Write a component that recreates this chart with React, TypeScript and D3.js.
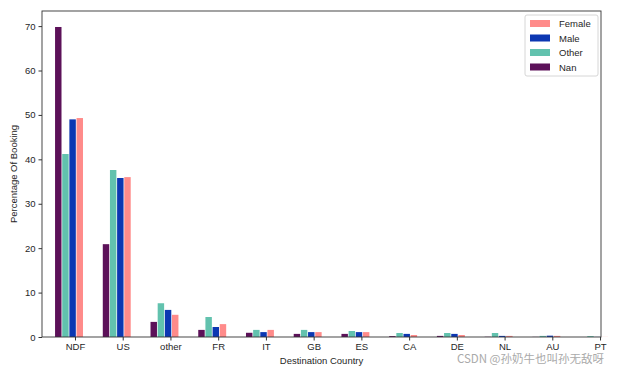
import React, { useRef, useEffect } from "react";
import * as d3 from "d3";

const countries = ["NDF", "US", "other", "FR", "IT", "GB", "ES", "CA", "DE", "NL", "AU", "PT"];
const nanValues = [69.8, 20.9, 3.4, 1.6, 0.95, 0.7, 0.7, 0.2, 0.25, 0.05, 0.03, 0.0];
const otherValues = [41.2, 37.6, 7.6, 4.5, 1.6, 1.6, 1.35, 0.9, 0.9, 0.9, 0.25, 0.2];
const maleValues = [49.0, 35.8, 6.1, 2.25, 1.1, 1.1, 1.1, 0.7, 0.7, 0.25, 0.3, 0.02];
const femaleValues = [49.3, 36.0, 5.0, 2.9, 1.6, 1.1, 1.1, 0.45, 0.45, 0.25, 0.25, 0.02];
const yTicks = [0, 10, 20, 30, 40, 50, 60, 70];

const series = [
  { name: "Nan", values: nanValues, color: "#5c1159", offset: -0.35 },
  { name: "Other", values: otherValues, color: "#62c2ae", offset: -0.2 },
  { name: "Male", values: maleValues, color: "#0c37b2", offset: -0.05 },
  { name: "Female", values: femaleValues, color: "#ff8b8a", offset: 0.1 },
];
const legendOrder = ["Female", "Male", "Other", "Nan"];

const App = () => {
  const ref = useRef<SVGSVGElement>(null);

  useEffect(() => {
    if (!ref.current) return;
    const svg = d3.select(ref.current);
    svg.selectAll("*").remove();

    const left = 42, right = 601, top = 11, bottom = 337;
    const font = "'Liberation Sans', Arial, sans-serif";
    const x = d3.scaleLinear().domain([-0.691, 11.02]).range([left, right]);
    const y = d3.scaleLinear().domain([0, 73.4]).range([bottom, top]);
    const barW = 0.135;

    // bars
    series.forEach((s) => {
      svg
        .append("g")
        .selectAll("rect")
        .data(s.values)
        .enter()
        .append("rect")
        .attr("x", (_, i) => x(i + s.offset - barW / 2))
        .attr("width", x(barW) - x(0))
        .attr("y", (v) => y(v))
        .attr("height", (v) => y(0) - y(v))
        .attr("fill", s.color);
    });

    // frame
    svg
      .append("rect")
      .attr("x", left)
      .attr("y", top)
      .attr("width", right - left)
      .attr("height", bottom - top)
      .attr("fill", "none")
      .attr("stroke", "#333")
      .attr("stroke-width", 0.9);

    // y axis
    const yAxis = svg
      .append("g")
      .attr("transform", `translate(${left},0)`)
      .call(d3.axisLeft(y).tickValues(yTicks).tickSize(3.5).tickPadding(3));
    yAxis.select(".domain").remove();
    yAxis.selectAll("line").attr("stroke", "#333");
    yAxis.selectAll("text").attr("font-family", font).attr("font-size", 9.5).attr("fill", "#262626");

    // x axis
    const xAxis = svg
      .append("g")
      .attr("transform", `translate(0,${bottom})`)
      .call(
        d3
          .axisBottom(x)
          .tickValues(d3.range(countries.length))
          .tickFormat((d) => countries[d as number])
          .tickSize(3.5)
          .tickPadding(2.5)
      );
    xAxis.select(".domain").remove();
    xAxis.selectAll("line").attr("stroke", "#333");
    xAxis.selectAll("text").attr("font-family", font).attr("font-size", 9.5).attr("fill", "#262626");

    // axis titles
    svg
      .append("text")
      .attr("x", (left + right) / 2)
      .attr("y", 364)
      .attr("text-anchor", "middle")
      .attr("font-family", font)
      .attr("font-size", 9.5)
      .attr("fill", "#262626")
      .text("Destination Country");
    svg
      .append("text")
      .attr("transform", `translate(17,${(top + bottom) / 2}) rotate(-90)`)
      .attr("text-anchor", "middle")
      .attr("font-family", font)
      .attr("font-size", 9.5)
      .attr("fill", "#262626")
      .text("Percentage Of Booking");

    // legend
    const lg = svg.append("g").attr("transform", "translate(525,15)");
    lg.append("rect")
      .attr("width", 73)
      .attr("height", 61)
      .attr("rx", 2)
      .attr("fill", "white")
      .attr("fill-opacity", 0.8)
      .attr("stroke", "#ccc")
      .attr("stroke-width", 0.8);
    legendOrder.forEach((name, i) => {
      const s = series.find((d) => d.name === name)!;
      lg.append("rect")
        .attr("x", 5)
        .attr("y", 5 + i * 14.5)
        .attr("width", 20)
        .attr("height", 7)
        .attr("fill", s.color);
      lg.append("text")
        .attr("x", 34)
        .attr("y", 12 + i * 14.5)
        .attr("font-family", font)
        .attr("font-size", 9.5)
        .attr("fill", "#262626")
        .text(name);
    });

    // watermark
    svg
      .append("text")
      .attr("x", 604)
      .attr("y", 363)
      .attr("text-anchor", "end")
      .attr("font-family", "'Noto Sans CJK SC', sans-serif")
      .attr("font-size", 11.5)
      .attr("fill", "#aaa")
      .text("CSDN @孙奶牛也叫孙无敌呀");
  }, []);

  return (
    <svg
      ref={ref}
      width={620}
      height={373}
      style={{ position: "absolute", left: 0, top: 0, background: "white" }}
    />
  );
};

export default App;
